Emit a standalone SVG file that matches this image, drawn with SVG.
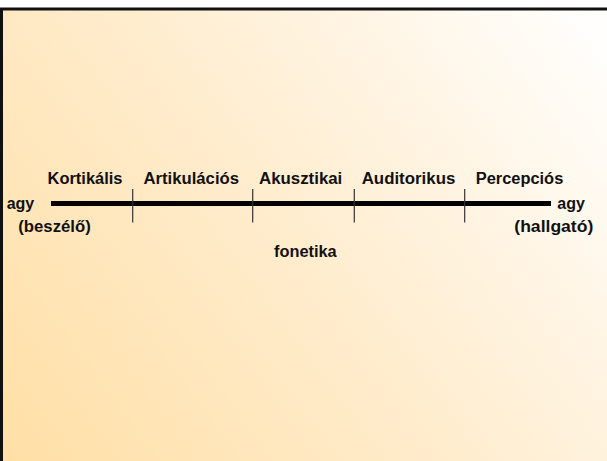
<svg xmlns="http://www.w3.org/2000/svg" width="607" height="461" viewBox="0 0 607 461">
<defs>
<linearGradient id="bg" x1="0" y1="461" x2="607" y2="9" gradientUnits="userSpaceOnUse">
<stop offset="0" stop-color="#FFDFA5"/>
<stop offset="0.5" stop-color="#FFEDCF"/>
<stop offset="1" stop-color="#FFFFFF"/>
</linearGradient>
<style>
text{font-family:"Liberation Sans",Arial,sans-serif;font-weight:bold;font-size:16px;fill:#111}
.tick{stroke:#333;stroke-width:1.2}
</style>
</defs>
<rect x="0" y="0" width="607" height="461" fill="#FFFFFF"/>
<rect x="1.5" y="9" width="620" height="470" fill="url(#bg)" stroke="#111" stroke-width="3"/>
<g id="connectors">
<line x1="51" y1="203.5" x2="551" y2="203.5" stroke="#000" stroke-width="5"/>
<line class="tick" x1="132.7" y1="189" x2="132.7" y2="222.5"/>
<line class="tick" x1="252.7" y1="189" x2="252.7" y2="222.5"/>
<line class="tick" x1="354.3" y1="189" x2="354.3" y2="222.5"/>
<line class="tick" x1="464.7" y1="189" x2="464.7" y2="222.5"/>
</g>
<g id="kortikalis"><text x="47.5" y="183.5" textLength="75" lengthAdjust="spacingAndGlyphs">Kortikális</text></g>
<g id="artikulacios"><text x="143.5" y="183.5" textLength="95.5" lengthAdjust="spacingAndGlyphs">Artikulációs</text></g>
<g id="akusztikai"><text x="259" y="183.5" textLength="83.3" lengthAdjust="spacingAndGlyphs">Akusztikai</text></g>
<g id="auditorikus"><text x="361.7" y="183.5" textLength="93.6" lengthAdjust="spacingAndGlyphs">Auditorikus</text></g>
<g id="percepcios"><text x="475.7" y="183.5" textLength="87.6" lengthAdjust="spacingAndGlyphs">Percepciós</text></g>
<g id="agy-left"><text x="6.7" y="208.5">agy</text><text x="18.3" y="232" textLength="72.4" lengthAdjust="spacingAndGlyphs">(beszélő)</text></g>
<g id="agy-right"><text x="557.3" y="208.5">agy</text><text x="514.3" y="232" textLength="79" lengthAdjust="spacingAndGlyphs">(hallgató)</text></g>
<g id="fonetika"><text x="274" y="256.5" textLength="62.7" lengthAdjust="spacingAndGlyphs">fonetika</text></g>
</svg>
